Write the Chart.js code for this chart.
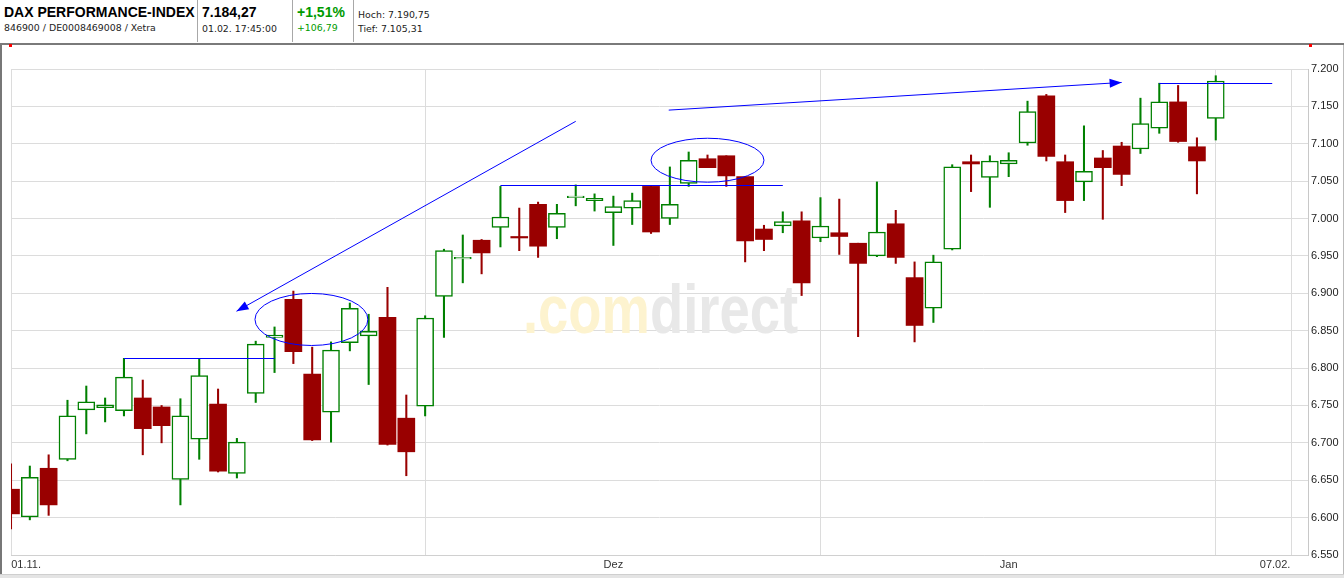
<!DOCTYPE html>
<html>
<head>
<meta charset="utf-8">
<script src="https://cdn.jsdelivr.net/npm/chart.js@4.4.1/dist/chart.umd.min.js"></script>
<style>
  body { margin: 0; background: #fff; }
  #wrap { position: relative; width: 1344px; height: 578px; overflow: hidden; background: #fff; }
  #head { position: absolute; left: 0; top: 0; width: 1344px; height: 43px; border-bottom: 2px solid #7a7a7a; }
  .sep { position: absolute; top: 0; width: 1px; height: 42px; background: #a8a8a8; }
  .big { position: absolute; font: bold 14px "Liberation Sans", Arial, sans-serif; line-height: 14px; color: #000; white-space: nowrap; }
  .small { position: absolute; font: 9.4px "DejaVu Sans", Verdana, sans-serif; line-height: 10px; color: #222; white-space: nowrap; }
  .up { color: #009a00; }
  .mark { position: absolute; top: 44px; width: 3px; height: 3px; background: #ff0000; }
  #frameL { position: absolute; left: 0; top: 45px; width: 2px; height: 533px; background: #777; }
  #frameR { position: absolute; right: 0; top: 45px; width: 1px; height: 533px; background: #bbb; }
  #frameB { position: absolute; left: 0; top: 574px; width: 1344px; height: 4px; background: #e4e4e4; border-top: 1px solid #cfcfcf; }
  #box { position: absolute; left: 0; top: 44px; width: 1344px; height: 534px; }
</style>
</head>
<body>
<div id="wrap">
  <div id="head">
    <div class="big" style="left:4px;top:5px;">DAX PERFORMANCE-INDEX</div>
    <div class="small" style="left:4px;top:23px;">846900 / DE0008469008 / Xetra</div>
    <div class="sep" style="left:197px;"></div>
    <div class="big" style="left:202px;top:5px;">7.184,27</div>
    <div class="small" style="left:202px;top:23.5px;">01.02. 17:45:00</div>
    <div class="sep" style="left:292px;"></div>
    <div class="big up" style="left:297px;top:5px;">+1,51%</div>
    <div class="small up" style="left:297px;top:23px;">+106,79</div>
    <div class="sep" style="left:353px;"></div>
    <div class="small" style="left:358px;top:9.5px;">Hoch: 7.190,75</div>
    <div class="small" style="left:358px;top:24.3px;">Tief: 7.105,31</div>
  </div>
  <div class="mark" style="left:9px;"></div>
  <div class="mark" style="left:1309px;"></div>
  <div id="box"><canvas id="chart" width="1344" height="534"></canvas></div>
  <div id="frameL"></div>
  <div id="frameR"></div>
  <div id="frameB"></div>
</div>
<script>
// Handelstage 01.11.2010 - 01.02.2011
const dates = [
  "01.11.", "02.11.", "03.11.", "04.11.", "05.11.", "08.11.", "09.11.", "10.11.", "11.11.", "12.11.",
  "15.11.", "16.11.", "17.11.", "18.11.", "19.11.", "22.11.", "23.11.", "24.11.", "25.11.", "26.11.",
  "29.11.", "30.11.",
  "01.12.", "02.12.", "03.12.", "06.12.", "07.12.", "08.12.", "09.12.", "10.12.", "13.12.", "14.12.",
  "15.12.", "16.12.", "17.12.", "20.12.", "21.12.", "22.12.", "23.12.", "27.12.", "28.12.", "29.12.",
  "30.12.",
  "03.01.", "04.01.", "05.01.", "06.01.", "07.01.", "10.01.", "11.01.", "12.01.", "13.01.", "14.01.",
  "17.01.", "18.01.", "19.01.", "20.01.", "21.01.", "24.01.", "25.01.", "26.01.", "27.01.", "28.01.",
  "31.01.",
  "01.02."
];
const open = [
  6638, 6601, 6666, 6678, 6744, 6747, 6743, 6760, 6748, 6651,
  6705, 6752, 6659, 6766, 6841, 6892, 6792, 6741, 6834, 6843,
  6868, 6733,
  6749, 6896, 6946, 6971, 6988, 6976, 7019, 6988, 7028, 7024,
  7008, 7014, 7043, 7000, 7047, 7080, 7084, 7056, 6986, 6990,
  6997,
  6974, 6981, 6967, 6950, 6993, 6921, 6880, 6959, 7076, 7055,
  7073, 7101, 7164, 7076, 7049, 7081, 7097, 7093, 7121, 7156,
  7096,
  7134
];
const high = [
  6672, 6669, 6684, 6757, 6776, 6760, 6813, 6784, 6750, 6759,
  6813, 6772, 6706, 6836, 6855, 6903, 6828, 6835, 6887, 6872,
  6908, 6764,
  6870, 6959, 6978, 6972, 7043, 7014, 7022, 7019, 7045, 7033,
  7030, 7034, 7044, 7069, 7089, 7085, 7084, 7056, 6991, 7009,
  7009,
  7028, 7026, 6967, 7049, 7011, 6942, 6951, 7072, 7085, 7084,
  7088, 7157, 7166, 7085, 7124, 7091, 7102, 7161, 7181, 7178,
  7108,
  7191
];
const low = [
  6585, 6597, 6603, 6676, 6712, 6728, 6736, 6684, 6700, 6617,
  6678, 6661, 6653, 6754, 6794, 6806, 6703, 6701, 6823, 6778,
  6697, 6656,
  6736, 6841, 6914, 6926, 6962, 6957, 6948, 6973, 7017, 7010,
  6964, 6992, 6980, 6992, 7043, 7068, 7043, 6942, 6957, 6981,
  6897,
  6969, 6952, 6842, 6949, 6940, 6835, 6861, 6958, 7036, 7015,
  7056, 7098, 7077, 7008, 7024, 6999, 7044, 7087, 7114, 7102,
  7033,
  7105
];
const close = [
  6605, 6654, 6617, 6736, 6755, 6751, 6788, 6719, 6723, 6736,
  6790, 6662, 6701, 6832, 6844, 6822, 6704, 6824, 6880, 6849,
  6698, 6688,
  6867, 6957, 6948, 6954, 7002, 6974, 6963, 7007, 7030, 7027,
  7016, 7024, 6982, 7019, 7078, 7068, 7057, 6970, 6972, 6996,
  6914,
  6990, 6976, 6940, 6982, 6948, 6857, 6942, 7069, 7073, 7077,
  7078, 7143, 7083, 7024, 7063, 7068, 7059, 7127, 7156, 7103,
  7077,
  7184
];

// Achse
const monthLines = [0, 22, 43, 64, 68];     // Monatsanfang / 07.02.
const xLabelAt = [0.8, 32, 53, 67.15];
const xLabels = ["01.11.", "Dez", "Jan", "07.02."];

// Zeichnungen (Index, Kurs)
const hLines = [[6, 14, 6813], [26, 41, 7045], [61, 67, 7181]];
const arrows = [[30, 7130, 11.98, 6876], [34.94, 7145, 59, 7182]];
const ellipses = [[15.96, 6865, 3, 34.8], [37, 7078, 3, 29.4]];

const GREEN = "#008000";
const RED = "#990000";
const BLUE = "#0000ff";

const isUp = close.map((c, i) => c >= open[i]);
const bodies = open.map((o, i) => ({ x: i, y: [o, close[i]] }));
const wicks = low.map((l, i) => ({ x: i, y: [l, high[i]] }));

const fmt = v => Math.floor(v / 1000) + "." + String(v % 1000).padStart(3, "0");

const watermark = {
  id: "watermark",
  beforeDatasetsDraw(chart) {
    const ctx = chart.ctx;
    ctx.save();
    ctx.translate(523, 289);
    ctx.scale(0.8, 1);
    ctx.font = "bold 68px 'Liberation Sans', Arial, sans-serif";
    ctx.textBaseline = "alphabetic";
    ctx.fillStyle = "#fdf3cf";
    ctx.fillText(".com", 0, 0);
    const w = ctx.measureText(".com").width;
    ctx.fillStyle = "#e8e8e8";
    ctx.fillText("direct", w, 0);
    ctx.restore();
  }
};

const drawings = {
  id: "drawings",
  afterDatasetsDraw(chart) {
    const ctx = chart.ctx;
    const xs = chart.scales.x, ys = chart.scales.y;
    const px = v => xs.getPixelForValue(v);
    const py = v => ys.getPixelForValue(v);
    ctx.save();
    ctx.strokeStyle = BLUE;
    ctx.fillStyle = BLUE;
    ctx.lineWidth = 1;
    hLines.forEach(([a, b, v]) => {
      const y = Math.round(py(v)) + 0.5;
      ctx.beginPath();
      ctx.moveTo(px(a), y);
      ctx.lineTo(px(b), y);
      ctx.stroke();
    });
    arrows.forEach(([a, va, b, vb]) => {
      const x1 = px(a), y1 = py(va), x2 = px(b), y2 = py(vb);
      ctx.beginPath();
      ctx.moveTo(x1, y1);
      ctx.lineTo(x2, y2);
      ctx.stroke();
      const ang = Math.atan2(y2 - y1, x2 - x1);
      const len = 12, half = 4.5;
      const bx = x2 - len * Math.cos(ang), by = y2 - len * Math.sin(ang);
      ctx.beginPath();
      ctx.moveTo(x2, y2);
      ctx.lineTo(bx + half * Math.sin(ang), by - half * Math.cos(ang));
      ctx.lineTo(bx - half * Math.sin(ang), by + half * Math.cos(ang));
      ctx.closePath();
      ctx.fill();
    });
    ellipses.forEach(([c, v, dx, dv]) => {
      const cx = px(c), cy = py(v);
      const rx = Math.abs(px(c + dx) - cx), ry = Math.abs(py(v + dv) - cy);
      ctx.beginPath();
      ctx.ellipse(cx, cy, rx, ry, 0, 0, Math.PI * 2);
      ctx.stroke();
    });
    ctx.restore();
  }
};

new Chart(document.getElementById("chart"), {
  type: "bar",
  data: {
    labels: dates,
    datasets: [
      {
        label: "Kerze",
        data: bodies,
        grouped: false,
        order: 0,
        barThickness: 17,
        backgroundColor: isUp.map(u => (u ? "#ffffff" : RED)),
        borderColor: isUp.map(u => (u ? GREEN : RED)),
        borderWidth: isUp.map(u => (u ? 1.5 : 0)),
        borderSkipped: false,
      },
      {
        label: "Docht",
        data: wicks,
        grouped: false,
        order: 1,
        barThickness: 1.4,
        backgroundColor: isUp.map(u => (u ? GREEN : RED)),
        borderWidth: 0,
      },
    ],
  },
  options: {
    responsive: false,
    animation: false,
    devicePixelRatio: 1,
    layout: { padding: { left: 11, top: 25, right: 0, bottom: 0 } },
    plugins: {
      legend: { display: false },
      tooltip: { enabled: false },
    },
    scales: {
      x: {
        type: "linear",
        offset: false,
        min: 0,
        max: 68.9,
        afterBuildTicks(scale) {
          const t = monthLines.concat(xLabelAt).sort((a, b) => a - b);
          scale.ticks = t.map(v => ({ value: v }));
        },
        afterFit(scale) { scale.height = 23; },
        grid: {
          offset: false,
          color: c => (c.tick && monthLines.includes(c.tick.value) ? "#dcdcdc" : "rgba(0,0,0,0)"),
          lineWidth: 1,
          drawTicks: false,
        },
        border: { display: true, color: "#d0d0d0" },
        ticks: {
          autoSkip: false,
          maxRotation: 0,
          padding: 3,
          color: "#333",
          font: { family: "'Liberation Sans', Arial, sans-serif", size: 11 },
          callback: v => {
            const k = xLabelAt.indexOf(v);
            return k >= 0 ? xLabels[k] : "";
          },
        },
      },
      y: {
        position: "right",
        min: 6550,
        max: 7200,
        afterFit(scale) { scale.width = 36; },
        grid: { color: "#dcdcdc", lineWidth: 1, drawTicks: false },
        border: { display: true, color: "#c8c8c8" },
        ticks: {
          stepSize: 50,
          padding: 3,
          color: "#222",
          font: { family: "'Liberation Sans', Arial, sans-serif", size: 11 },
          callback: v => fmt(v),
        },
      },
    },
  },
  plugins: [watermark, drawings],
});
</script>
</body>
</html>
